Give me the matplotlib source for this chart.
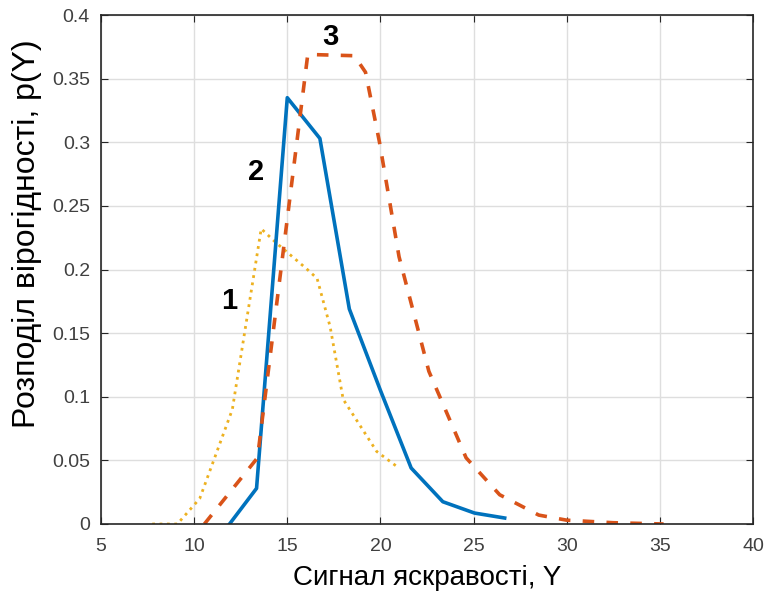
import numpy as np
import matplotlib.pyplot as plt

plt.rcParams['font.family'] = ['Liberation Sans', 'DejaVu Sans']

# curve 1 (yellow dotted)
y1_x = [7.75, 9.1, 10.3, 12.05, 13.6, 14.4, 16.0, 16.6, 17.3, 18.0, 19.8, 20.9]
y1_p = [0.0, 0.0, 0.02, 0.09, 0.232, 0.221, 0.201, 0.193, 0.155, 0.098, 0.057, 0.045]

# curve 2 (blue solid)
y2_x = [11.9, 13.35, 15.0, 16.75, 18.33, 20.0, 21.65, 23.35, 25.05, 26.67]
y2_p = [0.0, 0.028, 0.335, 0.303, 0.169, 0.105, 0.044, 0.0175, 0.0086, 0.0047]

# curve 3 (orange dashed)
y3_x = [10.55, 13.4, 16.1, 18.6, 19.2, 19.95, 21.0, 22.6, 24.6, 26.4, 28.5, 30.0, 32.5, 35.2]
y3_p = [0.0, 0.052, 0.369, 0.368, 0.355, 0.30, 0.21, 0.12, 0.052, 0.023, 0.007, 0.003, 0.001, 0.0]

fig = plt.figure(figsize=(7.68, 5.95), dpi=100)
ax = fig.add_axes([101/768, 1-524/595, (753-101)/768, (524-15)/595])

ax.plot(y1_x, y1_p, color='#EDB120', lw=2.0, linestyle=':')
ax.plot(y2_x, y2_p, color='#0072BD', lw=2.6)
l3, = ax.plot(y3_x, y3_p, color='#D95319', lw=2.6)
l3.set_dashes((3.2, 3.4))

ax.text(11.9, 0.175, '1', fontsize=21, fontweight='bold', ha='center', va='center')
ax.text(13.3, 0.277, '2', fontsize=21, fontweight='bold', ha='center', va='center')
ax.text(17.3, 0.383, '3', fontsize=21, fontweight='bold', ha='center', va='center')

ax.set_xlim(5, 40)
ax.set_ylim(0, 0.4)
ax.set_xticks(np.arange(5, 41, 5))
ax.set_yticks(np.arange(0, 0.401, 0.05))
ax.set_yticklabels(['0', '0.05', '0.1', '0.15', '0.2', '0.25', '0.3', '0.35', '0.4'])
ax.grid(True, color='#dedede', lw=1)
ax.set_axisbelow(True)
ax.tick_params(direction='in', top=True, right=True, labelsize=14,
               colors='#262626', labelcolor='#404040', length=5)
ax.tick_params(axis='x', pad=10)
ax.tick_params(axis='y', pad=8)
for s in ax.spines.values():
    s.set_color('#262626')
    s.set_linewidth(1.2)

ax.set_xlabel('Сигнал яскравості, Y', fontsize=20, labelpad=7)
ax.set_ylabel('Розподіл вірогідності, p(Y)', fontsize=23)
ax.yaxis.set_label_coords(-0.09, 0.57)

fig.savefig('out.png', dpi=100)
